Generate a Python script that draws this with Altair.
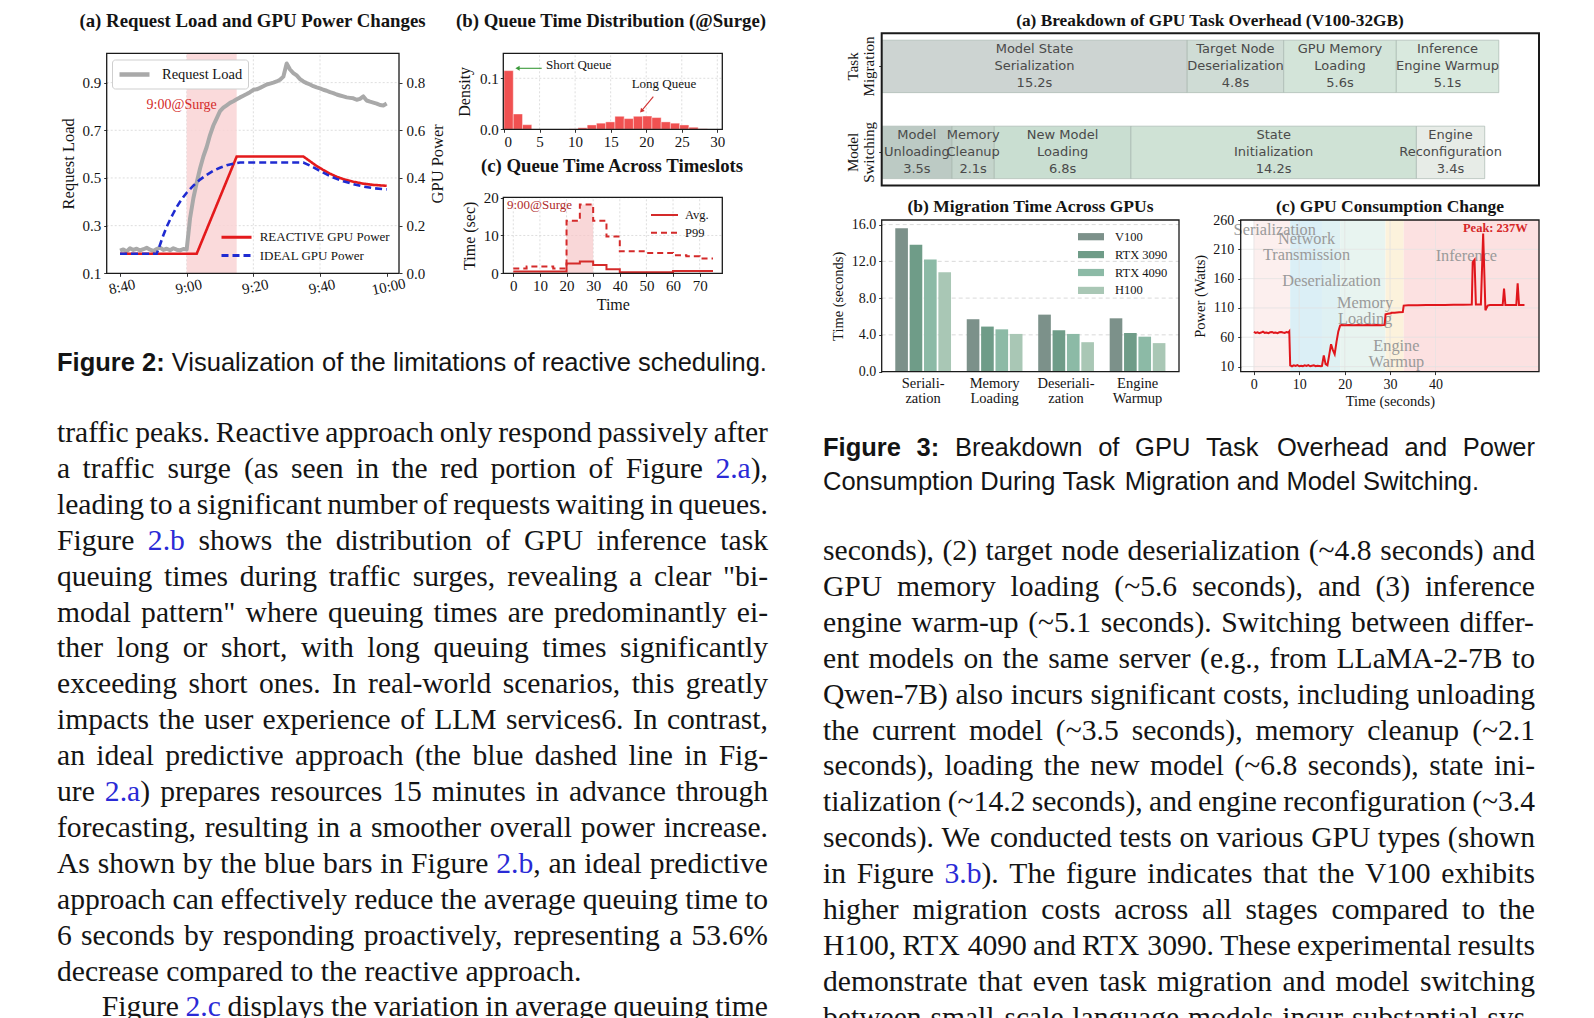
import altair as alt
import pandas as pd

SERIF = "Liberation Serif"
SANS = "Liberation Sans"
INK = "#141414"
LINK = "#2a2ad6"

# ---------------- Figure 2(a) data ----------------
req_minute = list(range(81))
req_load = [0.195, 0.200, 0.192, 0.205, 0.198, 0.203, 0.196, 0.201, 0.207, 0.199,
            0.194, 0.202, 0.208, 0.198, 0.203, 0.197, 0.205, 0.199, 0.196, 0.202,
            0.200, 0.330, 0.415, 0.480, 0.540, 0.590, 0.630, 0.680, 0.720, 0.750,
            0.780, 0.795, 0.805, 0.815, 0.822, 0.830, 0.838, 0.845, 0.852, 0.860,
            0.870, 0.872, 0.878, 0.885, 0.892, 0.896, 0.900, 0.905, 0.912, 0.925,
            0.980, 0.955, 0.940, 0.930, 0.915, 0.905, 0.898, 0.892, 0.885, 0.880,
            0.876, 0.870, 0.866, 0.860, 0.856, 0.850, 0.846, 0.842, 0.838, 0.836,
            0.834, 0.828, 0.832, 0.842, 0.825, 0.820, 0.816, 0.812, 0.806, 0.804, 0.812]
react_minute = [0, 23, 35, 55, 57, 59, 61, 63, 65, 67, 70, 73, 76, 80]
react_power = [0.082, 0.082, 0.49, 0.49, 0.47, 0.45, 0.433, 0.418, 0.405, 0.395, 0.384, 0.376, 0.371, 0.367]
ideal_minute = [0, 11, 12, 13, 14, 15, 16, 17, 18, 19, 20, 22, 24, 26, 28, 30, 32, 34, 36,
                55, 57, 59, 61, 63, 65, 67, 70, 73, 76, 80]
ideal_power = [0.082, 0.082, 0.12, 0.16, 0.195, 0.225, 0.252, 0.278, 0.300, 0.320, 0.338,
               0.368, 0.393, 0.413, 0.430, 0.443, 0.453, 0.460, 0.465,
               0.465, 0.452, 0.437, 0.422, 0.408, 0.396, 0.386, 0.374, 0.364, 0.357, 0.352]
surge_window = [20, 35]

# ---------------- Figure 2(b) data ----------------
hist_lo = [0, 1.3, 2.6, 9.1, 10.4, 11.7, 13.0, 14.3, 15.6, 16.9, 18.2, 19.5, 20.8, 22.1, 23.4, 24.7, 26.0, 27.3]
hist_density = [0.115, 0.030, 0.009, 0.0008, 0.003, 0.0085, 0.012, 0.0145, 0.0255, 0.021,
                0.0255, 0.026, 0.023, 0.0145, 0.012, 0.0085, 0.004, 0.001]
hist_bin = 1.3

# ---------------- Figure 2(c) data ----------------
slot_time = [0, 5, 10, 15, 20, 25, 30, 35, 40, 45, 50, 55, 60, 65, 70, 75]
slot_avg = [0.45, 0.45, 0.45, 0.45, 2.6, 3.1, 2.2, 1.1, 0.3, 0.3, 0.3, 0.3, 0.6, 0.6, 0.6, 0.6]
slot_p99 = [1.3, 1.8, 1.8, 1.3, 13.9, 18.2, 13.9, 9.7, 5.8, 5.8, 5.4, 5.4, 4.8, 4.5, 3.9, 3.9]

# ---------------- Figure 3(a) data ----------------
rows3a = ["Task Migration", "Model Switching"]
tm_steps = ["Model State\nSerialization", "Target Node\nDeserialization", "GPU Memory\nLoading", "Inference\nEngine Warmup"]
tm_secs = [15.2, 4.8, 5.6, 5.1]
tm_colors = ["#cdd4d2", "#cfdcd5", "#d3e4d9", "#d9e9de"]
ms_steps = ["Model\nUnloading", "Memory\nCleanup", "New Model\nLoading", "State\nInitialization", "Engine\nReconfiguration"]
ms_secs = [3.5, 2.1, 6.8, 14.2, 3.4]
ms_colors = ["#bccac4", "#c5d5cc", "#c9ded1", "#cfe2d5", "#e7ece7"]

# ---------------- Figure 3(b) data ----------------
stages = ["Seriali-|zation", "Memory|Loading", "Deseriali-|zation", "Engine|Warmup"]
gpus = ["V100", "RTX 3090", "RTX 4090", "H100"]
gpu_colors = ["#7c918a", "#6f9c88", "#8cbaa6", "#a9c7b5"]
sec_v100 = [15.6, 5.7, 6.2, 5.8]
sec_3090 = [13.8, 4.9, 4.5, 4.2]
sec_4090 = [12.2, 4.6, 4.1, 3.8]
sec_h100 = [10.8, 4.1, 3.2, 3.1]

# ---------------- Figure 3(c) data ----------------
phases = ["Serialization", "Network Transmission", "Deserialization", "Memory Loading", "Engine Warmup", "Inference"]
phase_start = [0, 8, 15, 19, 29, 33]
phase_end = [8, 15, 19, 29, 33, 62.8]
phase_colors = ["#fcefee", "#dbeff6", "#dff1f3", "#e8f4f0", "#fcf2dc", "#fce1e1"]
phase_labels = ["Serialization", "Network\nTransmission", "Deserialization", "Memory\nLoading", "Engine\nWarmup", "Inference"]
label_t = [4.6, 11.6, 17.1, 24.5, 31.4, 46.8]
label_w = [243, 228, 155.5, 118.6, 45.5, 198]
power_t = [0, 0.4, 0.8, 1.2, 1.6, 2.0, 2.4, 2.8, 3.2, 3.6, 4.0, 4.4, 4.8, 5.2, 5.6, 6.0, 6.4, 6.8, 7.2, 7.6, 7.8,
           8.0, 8.4, 8.8, 9.2, 9.6, 10.0, 10.4, 10.8, 11.2, 11.6, 12.0, 12.4, 12.8, 13.2, 13.6, 14.0, 14.4, 14.8, 15.0,
           15.4, 15.8, 16.2, 16.6, 17.0, 17.4, 17.8, 18.2, 18.6, 19.0, 19.3,
           20, 21, 22, 23, 24, 25, 26, 27, 28, 28.8, 29.0, 29.5, 30.2, 30.3, 31, 32, 32.8, 33.0,
           34, 36, 38, 40, 42, 44, 46, 48, 48.2, 48.6, 48.9, 50.0, 50.5, 51.0, 51.5, 52, 54, 54.8, 55.1, 55.4,
           57.8, 58.1, 58.4, 59.6]
power_w = [69, 67.5, 68.5, 67, 68, 69.5, 67.5, 68, 67, 68.5, 69, 67.5, 68, 67, 68.5, 69, 68, 67.5, 69, 68, 70,
           12, 10.5, 12, 11, 12.5, 10.5, 11.5, 10.5, 12, 11, 12.5, 10.5, 11.5, 12, 10.5, 11.5, 11, 10.5, 11,
           29, 14, 12, 30, 48, 38, 31, 52, 70, 80, 81,
           80.5, 81, 80.5, 81, 80.5, 81, 80.5, 81, 80.5, 81, 99, 100, 101, 102, 102, 102.5, 103, 114,
           114.5, 114.5, 115, 115, 115, 115.5, 115.5, 116, 188, 192, 116, 116, 237, 106, 114, 115, 115, 115, 143, 115,
           115, 152, 115, 115]

# ---------------- Text ----------------
fig2_caption = ["Figure 2: Visualization of the limitations of reactive scheduling."]
fig3_caption = ["Figure 3: Breakdown of GPU Task Overhead and Power",
                "Consumption During Task Migration and Model Switching."]
left_body = [
    "traffic peaks. Reactive approach only respond passively after",
    "a traffic surge (as seen in the red portion of Figure {2.a}),",
    "leading to a significant number of requests waiting in queues.",
    "Figure {2.b} shows the distribution of GPU inference task",
    "queuing times during traffic surges, revealing a clear \"bi-",
    "modal pattern\" where queuing times are predominantly ei-",
    "ther long or short, with long queuing times significantly",
    "exceeding short ones. In real-world scenarios, this greatly",
    "impacts the user experience of LLM services6. In contrast,",
    "an ideal predictive approach (the blue dashed line in Fig-",
    "ure {2.a}) prepares resources 15 minutes in advance through",
    "forecasting, resulting in a smoother overall power increase.",
    "As shown by the blue bars in Figure {2.b}, an ideal predictive",
    "approach can effectively reduce the average queuing time to",
    "6 seconds by responding proactively, representing a 53.6%",
    "decrease compared to the reactive approach.",
    "Figure {2.c} displays the variation in average queuing time",
]
right_body = [
    "seconds), (2) target node deserialization (~4.8 seconds) and",
    "GPU memory loading (~5.6 seconds), and (3) inference",
    "engine warm-up (~5.1 seconds). Switching between differ-",
    "ent models on the same server (e.g., from LLaMA-2-7B to",
    "Qwen-7B) also incurs significant costs, including unloading",
    "the current model (~3.5 seconds), memory cleanup (~2.1",
    "seconds), loading the new model (~6.8 seconds), state ini-",
    "tialization (~14.2 seconds), and engine reconfiguration (~3.4",
    "seconds). We conducted tests on various GPU types (shown",
    "in Figure {3.b}). The figure indicates that the V100 exhibits",
    "higher migration costs across all stages compared to the",
    "H100, RTX 4090 and RTX 3090. These experimental results",
    "demonstrate that even task migration and model switching",
    "between small-scale language models incur substantial sys-",
]
subplot_titles = ["(a) Request Load and GPU Power Changes", "(b) Queue Time Distribution (@Surge)",
                  "(c) Queue Time Across Timeslots", "(a) Breakdown of GPU Task Overhead (V100-32GB)",
                  "(b) Migration Time Across GPUs", "(c) GPU Consumption Change"]

# font advance widths (per 1000 em), used only to justify the paragraph text
TIMES = {'_': 500, ' ': 250, '!': 333, '"': 408, '%': 833, "'": 180, '(': 333, ')': 333, ',': 250, '-': 333,
         '.': 250, '/': 278, ':': 278, ';': 278, '?': 444, '@': 921, '~': 541,
         'A': 722, 'B': 667, 'C': 667, 'D': 722, 'E': 611, 'F': 556, 'G': 722, 'H': 722, 'I': 333, 'J': 389,
         'K': 722, 'L': 611, 'M': 889, 'N': 722, 'O': 722, 'P': 556, 'Q': 722, 'R': 667, 'S': 556, 'T': 611,
         'U': 722, 'V': 722, 'W': 944, 'X': 722, 'Y': 722, 'Z': 611,
         'a': 444, 'b': 500, 'c': 444, 'd': 500, 'e': 444, 'f': 333, 'g': 500, 'h': 500, 'i': 278, 'j': 278,
         'k': 500, 'l': 278, 'm': 778, 'n': 500, 'o': 500, 'p': 500, 'q': 500, 'r': 333, 's': 389, 't': 278,
         'u': 500, 'v': 500, 'w': 722, 'x': 500, 'y': 500, 'z': 444}
HELV = {'_': 556, ' ': 278, '"': 355, '%': 889, '(': 333, ')': 333, ',': 278, '-': 333, '.': 278, ':': 278,
        'A': 667, 'B': 667, 'C': 722, 'D': 722, 'E': 667, 'F': 611, 'G': 778, 'H': 722, 'I': 278, 'J': 500,
        'K': 667, 'L': 556, 'M': 833, 'N': 722, 'O': 778, 'P': 667, 'Q': 778, 'R': 722, 'S': 667, 'T': 611,
        'U': 722, 'V': 667, 'W': 944, 'X': 667, 'Y': 667, 'Z': 611,
        'a': 556, 'b': 556, 'c': 500, 'd': 556, 'e': 556, 'f': 278, 'g': 556, 'h': 556, 'i': 222, 'j': 222,
        'k': 500, 'l': 222, 'm': 833, 'n': 556, 'o': 556, 'p': 556, 'q': 556, 'r': 333, 's': 500, 't': 278,
        'u': 556, 'v': 500, 'w': 722, 'x': 500, 'y': 500, 'z': 500}
HELVB = {'_': 556, ' ': 278, ':': 333, 'F': 611, 'i': 278, 'g': 611, 'u': 611, 'r': 389, 'e': 556}

# ---------------- page geometry (chart pixels) ----------------
W, H = 1578, 1010
P2A = (98.7, 391.0, 45.3, 265.3)      # x0, x1, top, bottom
P2B = (495.3, 714.3, 45.3, 121.3)
P2C = (495.3, 714.3, 189.3, 265.3)
P3A = (873.7, 1531.0, 25.3, 177.5)
P3B = (873.7, 1171.0, 212.0, 363.6)
P3C = (1232.7, 1531.0, 212.0, 363.6)
title_pos = [(244.5, 12.8, 18.8), (603, 12.8, 18.8), (604, 157.8, 18.8),
             (1202, 13.0, 17.3), (1022.5, 198.6, 17.5), (1382, 198.6, 17.5)]


def S(dom, rng, **kw):
    return alt.Scale(domain=dom, range=rng, nice=False, zero=False, **kw)


def parse_segments(word):
    out, buf, link = [], "", False
    for ch in word:
        if ch == "{":
            if buf:
                out.append((buf, False))
            buf, link = "", True
        elif ch == "}":
            out.append((buf, True))
            buf, link = "", False
        else:
            buf += ch
    if buf:
        out.append((buf, link))
    return out


def build_text(lines, x0, y0, line_h, width, size, tab, btab=None, nbold=0, no_justify=(), indent=None):
    indent = indent or {}
    rows = []
    sp = tab[' '] * size / 1000.0
    for i, line in enumerate(lines):
        parsed = []
        for k, w in enumerate(line.split(' ')):
            bold = (i == 0 and k < nbold)
            t = btab if bold else tab
            parsed.append([(txt, lk, bold, sum(t.get(ch, t['_']) for ch in txt) * size / 1000.0)
                           for txt, lk in parse_segments(w)])
        widths = [sum(s[3] for s in p) for p in parsed]
        x = indent.get(i, 0.0)
        if i in no_justify or len(parsed) < 2:
            gap = sp
        else:
            gap = max((width - x - sum(widths)) / (len(parsed) - 1), 0.12 * size)
        for p, wdt in zip(parsed, widths):
            xx = x
            for txt, lk, bold, sw in p:
                rows.append({'x': x0 + xx, 'y': y0 + i * line_h, 't': txt,
                             'c': LINK if lk else INK, 'b': 1 if bold else 0})
                xx += sw
            x += wdt + gap
    return pd.DataFrame(rows)


X_ID = S([0, W], [0, W])
Y_ID = S([0, H], [0, H])


def text_layers(df, font, size):
    enc = dict(x=alt.X('x:Q', scale=X_ID, axis=None), y=alt.Y('y:Q', scale=Y_ID, axis=None),
               text='t:N', color=alt.Color('c:N', scale=None))
    out = [alt.Chart(df[df.b == 0]).mark_text(align='left', baseline='middle', font=font, fontSize=size).encode(**enc)]
    if (df.b == 1).any():
        out.append(alt.Chart(df[df.b == 1]).mark_text(align='left', baseline='middle', font=font, fontSize=size,
                                                      fontWeight='bold').encode(**enc))
    return out


def frame(p, width=1.3):
    x0, x1, top, bot = p
    df = pd.DataFrame({'a': [0], 'b': [1], 'c': [0], 'd': [1]})
    return alt.Chart(df).mark_rect(filled=False, color='#1a1a1a', strokeWidth=width).encode(
        x=alt.X('a:Q', scale=S([0, 1], [x0, x1]), axis=None), x2='b:Q',
        y=alt.Y('c:Q', scale=S([0, 1], [bot, top]), axis=None), y2='d:Q')


def vgrid(vals, xs, ys, ylo, yhi, dash=(2, 2), color='#d5d5d5'):
    df = pd.DataFrame({'v': vals, 'lo': ylo, 'hi': yhi})
    return alt.Chart(df).mark_rule(color=color, strokeDash=list(dash), strokeWidth=0.8).encode(
        x=alt.X('v:Q', scale=xs, axis=None), y=alt.Y('lo:Q', scale=ys, axis=None), y2='hi:Q')


def hgrid(vals, xs, ys, xlo, xhi, dash=(2, 2), color='#d5d5d5'):
    df = pd.DataFrame({'v': vals, 'lo': xlo, 'hi': xhi})
    return alt.Chart(df).mark_rule(color=color, strokeDash=list(dash), strokeWidth=0.8).encode(
        y=alt.Y('v:Q', scale=ys, axis=None), x=alt.X('lo:Q', scale=xs, axis=None), x2='hi:Q')


layers = []

# =============== Figure 2(a) ===============
X2A = S([-4, 83.7], [P2A[0], P2A[1]])
YL2A = S([0.1, 1.023], [P2A[3], P2A[2]])
YR2A = S([0, 0.923], [P2A[3], P2A[2]])
CLOCK = ("floor((520 + datum.value) / 60) + ':' + ((520 + datum.value) % 60 < 10 ? '0' : '') + "
         "((520 + datum.value) % 60)")
layers.append(vgrid([20, 40, 60], X2A, YL2A, 0.1, 1.023))
layers.append(hgrid([0.3, 0.5, 0.7, 0.9], X2A, YL2A, -4, 83.7))
surge_df = pd.DataFrame({'a': [surge_window[0]], 'b': [surge_window[1]], 'lo': [0.1], 'hi': [1.023]})
layers.append(alt.Chart(surge_df).mark_rect(color='#f9d3d5', opacity=0.85).encode(
    x=alt.X('a:Q', scale=X2A, axis=None), x2='b:Q', y=alt.Y('lo:Q', scale=YL2A, axis=None), y2='hi:Q'))
req_df = pd.DataFrame({'t': req_minute, 'v': req_load, 's': 'Request Load'})
layers.append(alt.Chart(req_df).mark_line(strokeWidth=4, strokeJoin='round').encode(
    x=alt.X('t:Q', scale=X2A, axis=alt.Axis(orient='bottom', offset=P2A[3] - H, values=[0, 20, 40, 60, 80],
                                             labelExpr=CLOCK, labelAngle=348, labelAlign='center',
                                             labelBaseline='top', labelFontSize=15, labelPadding=3, title=None)),
    y=alt.Y('v:Q', scale=YL2A, axis=alt.Axis(orient='left', offset=-P2A[0], values=[0.1, 0.3, 0.5, 0.7, 0.9],
                                              format='.1f', title='Request Load', titleFontSize=16.5,
                                              labelFontSize=15, labelPadding=3, titlePadding=5)),
    color=alt.Color('s:N', scale=alt.Scale(domain=['Request Load'], range=['#a9a9a9']),
                    legend=alt.Legend(title=None, orient='none', legendX=104, legendY=51.5, padding=5,
                                      strokeColor='#cfcfcf', fillColor='white', cornerRadius=3,
                                      symbolType='M-1,0H3', symbolStrokeWidth=4.5, symbolSize=225,
                                      labelOffset=25, labelFontSize=14.5, labelFont=SERIF))))
gpu_df = pd.concat([
    pd.DataFrame({'t': react_minute, 'p': react_power, 'g': 'REACTIVE GPU Power'}),
    pd.DataFrame({'t': ideal_minute, 'p': ideal_power, 'g': 'IDEAL GPU Power'}),
])
GNAMES = ['REACTIVE GPU Power', 'IDEAL GPU Power']
GPU_LEG = alt.Legend(title=None, orient='none', legendX=212, legendY=218.2, symbolType='M-1,0H2.16',
                     symbolStrokeWidth=3, symbolSize=361, labelOffset=17.7, labelFontSize=13, labelFont=SERIF,
                     rowPadding=0.3, padding=0)
layers.append(alt.Chart(gpu_df).mark_line(strokeWidth=2.6).encode(
    x=alt.X('t:Q', scale=X2A, axis=None),
    y=alt.Y('p:Q', scale=YR2A, axis=alt.Axis(orient='right', offset=P2A[1] - W, values=[0, 0.2, 0.4, 0.6, 0.8],
                                              format='.1f', title='GPU Power', titleFontSize=16.5,
                                              titleAngle=270, titleBaseline='top',
                                              labelFontSize=15, labelPadding=4, titlePadding=5)),
    stroke=alt.Stroke('g:N', scale=alt.Scale(domain=GNAMES, range=['#e41a1c', '#1f2bd1']), legend=GPU_LEG),
    strokeDash=alt.StrokeDash('g:N', scale=alt.Scale(domain=GNAMES, range=[[1, 0], [7, 4]]), legend=GPU_LEG),
    detail='g:N'))
layers.append(alt.Chart(pd.DataFrame({'t': [18.5], 'v': [0.805], 'txt': ['9:00@Surge']})).mark_text(
    font=SERIF, fontSize=14, color='#d42a2a').encode(
    x=alt.X('t:Q', scale=X2A, axis=None), y=alt.Y('v:Q', scale=YL2A, axis=None), text='txt:N'))
layers.append(frame(P2A))

# =============== Figure 2(b) ===============
X2B = S([-0.1, 30.7], [P2B[0], P2B[1]])
Y2B = S([0, 0.149], [P2B[3], P2B[2]])
layers.append(vgrid([5, 10, 15, 20, 25, 30], X2B, Y2B, 0, 0.149))
layers.append(hgrid([0.1], X2B, Y2B, -0.1, 30.7))
hist_df = pd.DataFrame({'lo': hist_lo, 'hi': [v + hist_bin for v in hist_lo], 'd': hist_density, 'z': 0.0})
layers.append(alt.Chart(hist_df).mark_rect(color='#ef3f3f', opacity=0.9, stroke='white', strokeWidth=0.4).encode(
    x=alt.X('lo:Q', scale=X2B, axis=alt.Axis(orient='bottom', offset=P2B[3] - H, values=[0, 5, 10, 15, 20, 25, 30],
                                              labelFontSize=15, labelPadding=2, title=None)),
    x2='hi:Q',
    y=alt.Y('d:Q', scale=Y2B, axis=alt.Axis(orient='left', offset=-P2B[0], values=[0, 0.1], format='.1f',
                                             title='Density', titleFontSize=16, labelFontSize=15, labelPadding=2,
                                             titlePadding=7)),
    y2='z:Q'))
arrow_df = pd.DataFrame({'x': [5.3, 21.0], 'x2': [2.0, 19.4], 'y': [0.1196, 0.064], 'y2': [0.1196, 0.037],
                         'c': ['#3a9a3a', '#d03030'], 'ang': [270, 220]})
layers.append(alt.Chart(arrow_df).mark_rule(strokeWidth=1.1).encode(
    x=alt.X('x:Q', scale=X2B, axis=None), x2='x2:Q', y=alt.Y('y:Q', scale=Y2B, axis=None), y2='y2:Q',
    color=alt.Color('c:N', scale=None)))
layers.append(alt.Chart(arrow_df).mark_point(shape='triangle', filled=True, size=24, opacity=1).encode(
    x=alt.X('x2:Q', scale=X2B, axis=None), y=alt.Y('y2:Q', scale=Y2B, axis=None),
    color=alt.Color('c:N', scale=None), angle=alt.Angle('ang:Q', scale=None)))
layers.append(alt.Chart(pd.DataFrame({'x': [5.9], 'y': [0.126], 'txt': ['Short Queue']})).mark_text(
    font=SERIF, fontSize=13, align='left', color=INK).encode(
    x=alt.X('x:Q', scale=X2B, axis=None), y=alt.Y('y:Q', scale=Y2B, axis=None), text='txt:N'))
layers.append(alt.Chart(pd.DataFrame({'x': [22.5], 'y': [0.088], 'txt': ['Long Queue']})).mark_text(
    font=SERIF, fontSize=13, align='center', color=INK).encode(
    x=alt.X('x:Q', scale=X2B, axis=None), y=alt.Y('y:Q', scale=Y2B, axis=None), text='txt:N'))
layers.append(frame(P2B))

# =============== Figure 2(c) ===============
X2C = S([-3.75, 78.5], [P2C[0], P2C[1]])
Y2C = S([0, 20.1], [P2C[3], P2C[2]])
layers.append(vgrid([0, 10, 20, 30, 40, 50, 60, 70], X2C, Y2C, 0, 20.1))
layers.append(hgrid([10, 20], X2C, Y2C, -3.75, 78.5))
surge_area_df = pd.DataFrame({'t': [20, 25, 30], 'q': [slot_p99[4], slot_p99[5], slot_p99[5]]})
layers.append(alt.Chart(surge_area_df).mark_area(interpolate='step-after', color='#f6c6c8', opacity=0.7).encode(
    x=alt.X('t:Q', scale=X2C, axis=None), y=alt.Y('q:Q', scale=Y2C, axis=None)))
slot_df = pd.concat([
    pd.DataFrame({'t': slot_time, 'q': slot_avg, 's': 'Avg.'}),
    pd.DataFrame({'t': slot_time, 'q': slot_p99, 's': 'P99'}),
])
layers.append(alt.Chart(slot_df).mark_line(interpolate='step-after', color='#d42a2a', strokeWidth=2).encode(
    x=alt.X('t:Q', scale=X2C, axis=alt.Axis(orient='bottom', offset=P2C[3] - H,
                                             values=[0, 10, 20, 30, 40, 50, 60, 70], labelFontSize=15,
                                             labelPadding=2, title='Time', titleFontSize=16, titlePadding=3)),
    y=alt.Y('q:Q', scale=Y2C, axis=alt.Axis(orient='left', offset=-P2C[0], values=[0, 10, 20],
                                             title='Time (sec)', titleFontSize=16, labelFontSize=15,
                                             labelPadding=2, titlePadding=6)),
    strokeDash=alt.StrokeDash('s:N', scale=alt.Scale(domain=['Avg.', 'P99'], range=[[1, 0], [6, 4]]),
                              legend=alt.Legend(title=None, orient='none', legendX=642, legendY=197,
                                                symbolType='M-1,0H2', symbolStrokeColor='#d42a2a',
                                                symbolStrokeWidth=2, symbolSize=324, labelOffset=15,
                                                labelFontSize=12.5, labelFont=SERIF, rowPadding=0.7,
                                                padding=0))))
layers.append(alt.Chart(pd.DataFrame({'t': [-2.4], 'q': [18.1], 'txt': ['9:00@Surge']})).mark_text(
    font=SERIF, fontSize=13, align='left', color='#b02a2a').encode(
    x=alt.X('t:Q', scale=X2C, axis=None), y=alt.Y('q:Q', scale=Y2C, axis=None), text='txt:N'))
layers.append(frame(P2C))

# =============== Figure 3(a) ===============
rec = []
for rname, names, secs, cols in [(rows3a[0], tm_steps, tm_secs, tm_colors), (rows3a[1], ms_steps, ms_secs, ms_colors)]:
    acc = 0.0
    for n, s, c in zip(names, secs, cols):
        rec.append({'row': rname, 'lbl': f"{n}\n{s}s", 's0': acc, 's1': acc + s, 'mid': acc + s / 2, 'col': c})
        acc += s
df3a = pd.DataFrame(rec)
X3A = S([0, 32.7], [P3A[0], P3A[1]])
Y3A = alt.Scale(type='band', domain=rows3a, range=[P3A[2], P3A[3]], paddingInner=0.39, paddingOuter=0.08)
layers.append(alt.Chart(df3a).mark_bar(stroke='#a9b8b0', strokeWidth=0.7).encode(
    x=alt.X('s0:Q', scale=X3A, axis=None), x2='s1:Q',
    y=alt.Y('row:N', scale=Y3A, axis=alt.Axis(orient='left', offset=-P3A[0], title=None,
                                               labelExpr="split(datum.label, ' ')", labelAngle=270,
                                               labelAlign='center', labelBaseline='bottom', labelFontSize=15,
                                               labelLineHeight=15.5, labelPadding=18)),
    color=alt.Color('col:N', scale=None)))
layers.append(alt.Chart(df3a).mark_text(font='DejaVu Sans', fontSize=13, lineBreak='\n', lineHeight=17, dy=-17,
                                        color='#4a4a4a', baseline='middle').encode(
    x=alt.X('mid:Q', scale=X3A, axis=None), y=alt.Y('row:N', scale=Y3A, axis=None), text='lbl:N'))
layers.append(frame(P3A, 2))

# =============== Figure 3(b) ===============
rec = []
for g, vals in zip(gpus, [sec_v100, sec_3090, sec_4090, sec_h100]):
    for st, v in zip(stages, vals):
        rec.append({'stage': st, 'gpu': g, 'sec': v})
df3b = pd.DataFrame(rec)
Y3B = S([0, 16.5], [P3B[3], P3B[2]])
layers.append(hgrid([4, 8, 12, 16], S([0, 1], [P3B[0], P3B[1]]), Y3B, 0, 1, dash=(4, 3), color='#d0d0d0'))
layers.append(alt.Chart(df3b).mark_bar().encode(
    x=alt.X('stage:N', scale=alt.Scale(domain=stages, range=[P3B[0], P3B[1]], paddingInner=0.22, paddingOuter=0.19),
            axis=alt.Axis(orient='bottom', offset=P3B[3] - H, title=None, labelAngle=0,
                          labelExpr="split(datum.label, '|')", labelFontSize=14.5, labelLineHeight=15,
                          labelPadding=5, ticks=False, labelBaseline='top')),
    xOffset=alt.XOffset('gpu:N', scale=alt.Scale(domain=gpus, paddingInner=0.12)),
    y=alt.Y('sec:Q', scale=Y3B, axis=alt.Axis(orient='left', offset=-P3B[0], values=[0, 4, 8, 12, 16],
                                               format='.1f', title='Time (seconds)', titleFontSize=14.5,
                                               labelFontSize=14, labelPadding=3, titlePadding=6)),
    color=alt.Color('gpu:N', scale=alt.Scale(domain=gpus, range=gpu_colors),
                    legend=alt.Legend(title=None, orient='none', legendX=1070, legendY=219.7, padding=0,
                                      symbolType='M-1,-0.4H1.89V0.4H-1Z', symbolSize=324, symbolStrokeWidth=0,
                                      labelFontSize=12.5, labelFont=SERIF, labelOffset=19, rowPadding=1.9))))
layers.append(frame(P3B))

# =============== Figure 3(c) ===============
X3C = S([-2.9, 62.8], [P3C[0], P3C[1]])
Y3C = S([1.4, 260], [P3C[3], P3C[2]])
phase_df = pd.DataFrame({'p': phases, 's': phase_start, 'e': phase_end, 'lo': 1.4, 'hi': 260})
layers.append(alt.Chart(phase_df).mark_rect().encode(
    x=alt.X('s:Q', scale=X3C, axis=None), x2='e:Q', y=alt.Y('lo:Q', scale=Y3C, axis=None), y2='hi:Q',
    color=alt.Color('p:N', scale=alt.Scale(domain=phases, range=phase_colors), legend=None)))
layers.append(vgrid([0, 10, 20, 30, 40], X3C, Y3C, 1.4, 260, dash=(1, 0), color='#e2e2e2'))
layers.append(hgrid([10, 60, 110, 160, 210], X3C, Y3C, -2.9, 62.8, dash=(1, 0), color='#e2e2e2'))
lbl_df = pd.DataFrame({'t': label_t, 'w': label_w, 'txt': phase_labels})
layers.append(alt.Chart(lbl_df).mark_text(font=SERIF, fontSize=16.3, color='#9a9a9a', lineBreak='\n',
                                          lineHeight=16.5, baseline='middle').encode(
    x=alt.X('t:Q', scale=X3C, axis=None), y=alt.Y('w:Q', scale=Y3C, axis=None), text='txt:N'))
pw_df = pd.DataFrame({'t': power_t, 'w': power_w})
layers.append(alt.Chart(pw_df).mark_line(color='#e0161c', strokeWidth=2).encode(
    x=alt.X('t:Q', scale=X3C, axis=alt.Axis(orient='bottom', offset=P3C[3] - H, values=[0, 10, 20, 30, 40],
                                             labelFontSize=14, labelPadding=3, title='Time (seconds)',
                                             titleFontSize=14.5, titlePadding=3)),
    y=alt.Y('w:Q', scale=Y3C, axis=alt.Axis(orient='left', offset=-P3C[0], values=[10, 60, 110, 160, 210, 260],
                                             title='Power (Watts)', titleFontSize=14.5, labelFontSize=14,
                                             labelPadding=4, titlePadding=5))))
layers.append(alt.Chart(pd.DataFrame({'t': [53.2], 'w': [246], 'txt': ['Peak: 237W']})).mark_text(
    font=SERIF, fontSize=12.5, fontWeight='bold', color='#d62728').encode(
    x=alt.X('t:Q', scale=X3C, axis=None), y=alt.Y('w:Q', scale=Y3C, axis=None), text='txt:N'))
layers.append(frame(P3C))

# =============== subplot titles ===============
tdf = pd.DataFrame({'x': [p[0] for p in title_pos], 'y': [p[1] for p in title_pos],
                    's': [p[2] for p in title_pos], 't': subplot_titles})
layers.append(alt.Chart(tdf).mark_text(font=SERIF, fontWeight='bold', align='center', baseline='middle',
                                       color=INK).encode(
    x=alt.X('x:Q', scale=X_ID, axis=None), y=alt.Y('y:Q', scale=Y_ID, axis=None), text='t:N',
    size=alt.Size('s:Q', scale=None)))

# =============== captions and body text ===============
BODY_SIZE = 29.6
LINE_H = 35.9
cap_em = (sum(HELVB.get(ch, 556) for ch in "Figure2:") + sum(HELV.get(ch, 556) for ch in
          "Visualization of the limitations of reactive scheduling.") + 2 * 278) / 1000.0
CAP_SIZE = 710.0 / cap_em

cap2_df = build_text(fig2_caption, 49, 355, 36, 711, CAP_SIZE, HELV, HELVB, nbold=2, no_justify=(0,))
cap3_df = build_text(fig3_caption, 815, 440.3, 33.6, 712, CAP_SIZE, HELV, HELVB, nbold=2, no_justify=(1,))
left_df = build_text(left_body, 49, 425, LINE_H, 711, BODY_SIZE, TIMES, no_justify=(15,), indent={16: 44.7})
right_df = build_text(right_body, 815, 543, LINE_H, 712, BODY_SIZE, TIMES)
layers += text_layers(cap2_df, SANS, CAP_SIZE)
layers += text_layers(cap3_df, SANS, CAP_SIZE)
layers += text_layers(left_df, SERIF, BODY_SIZE)
layers += text_layers(right_df, SERIF, BODY_SIZE)

chart = alt.layer(*layers).resolve_scale(
    x='independent', y='independent', color='independent', stroke='independent', strokeDash='independent',
    size='independent', angle='independent'
).resolve_axis(x='independent', y='independent').resolve_legend(
    color='independent', stroke='independent', strokeDash='independent'
).properties(
    width=W, height=H, padding=0, autosize=alt.AutoSizeParams(type='none')
).configure(font=SERIF).configure_view(stroke=None).configure_axis(
    labelFont=SERIF, titleFont=SERIF, labelColor=INK, titleColor=INK, titleFontWeight='normal',
    tickColor='#333333', tickSize=3, domain=False, grid=False
).configure_legend(labelFont=SERIF, labelColor=INK)

chart.save("out.html", embed_options={"renderer": "svg", "actions": False})
